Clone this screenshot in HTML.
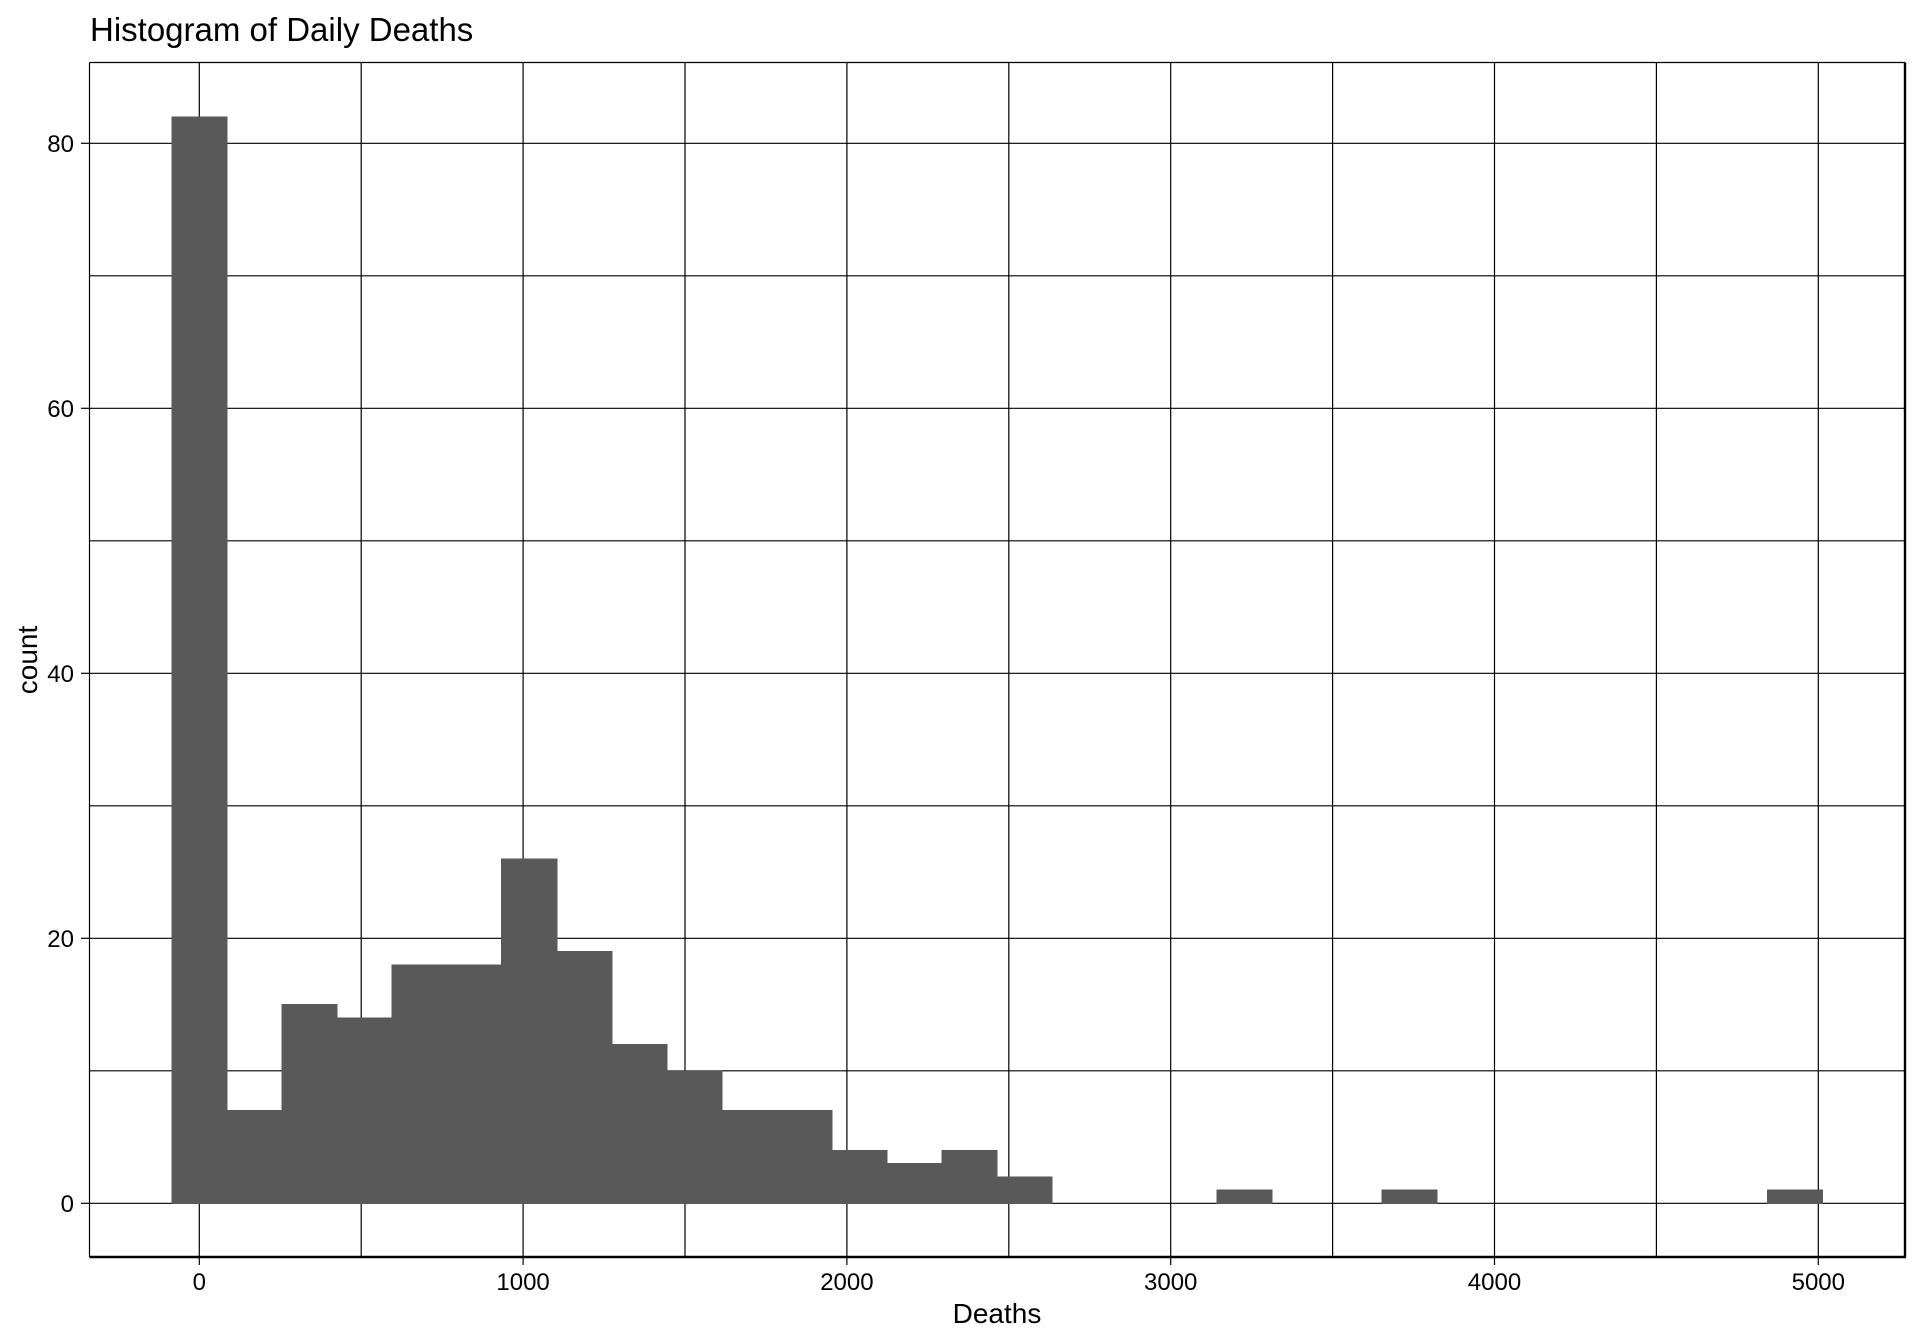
<!DOCTYPE html>
<html><head><meta charset="utf-8"><style>
html,body{margin:0;padding:0;background:#fff;}
svg{display:block;font-family:"Liberation Sans",Arial,sans-serif;}
</style></head><body>
<svg id="chart" width="1920" height="1344" viewBox="0 0 1920 1344" xmlns="http://www.w3.org/2000/svg">
<text x="90" y="41" font-size="33" fill="#000">Histogram of Daily Deaths</text>
<g id="grid"></g>
<g id="bars" shape-rendering="crispEdges"></g>
<g id="axes"></g>
<text x="997" y="1323" font-size="28" text-anchor="middle" fill="#000">Deaths</text>
<text transform="translate(37,660) rotate(-90)" font-size="28" text-anchor="middle" fill="#000">count</text>
</svg>
<script>
const binCenters = [0,170,340,510,680,850,1019,1189,1359,1529,1699,1869,2039,2209,2379,2549,2719,2889,3058,3228,3398,3568,3737,3907,4077,4247,4417,4587,4757,4928];
const counts = [82,7,15,14,18,18,26,19,12,10,7,7,4,3,4,2,0,0,0,1,0,0,1,0,0,0,0,0,0,1];
const binWidth = 169.9;
const xTicks = [0,1000,2000,3000,4000,5000];
const xMinor = [500,1500,2500,3500,4500];
const yTicks = [0,20,40,60,80];
const yMinor = [10,30,50,70];

const PL=89.5, PR=1905, PT=62.5, PB=1257;
function xs(v){return 199.3 + v*0.3238;}
function ys(v){return 1203.3 - v*13.25;}
const NS="http://www.w3.org/2000/svg";
function mk(tag, attrs, parent){const e=document.createElementNS(NS,tag);for(const k in attrs)e.setAttribute(k,attrs[k]);parent.appendChild(e);return e;}
const grid=document.getElementById('grid'), bars=document.getElementById('bars'), axes=document.getElementById('axes');

xMinor.concat(xTicks).forEach(v=>{
  const l=mk('line',{x1:xs(v),x2:xs(v),y1:PT,y2:PB,stroke:'#000','stroke-width':1.2},grid);
  
  
});
yMinor.concat(yTicks).forEach(v=>{
  const l=mk('line',{x1:PL,x2:PR,y1:ys(v),y2:ys(v),stroke:'#000','stroke-width':1.2},grid);
  
  
});
binCenters.forEach((c,i)=>{
  if(counts[i]<=0) return;
  const x0=xs(c-binWidth/2), x1=xs(c+binWidth/2);
  const r=mk('rect',{x:x0,y:ys(counts[i]),width:x1-x0,height:ys(0)-ys(counts[i]),fill:'#595959',stroke:'#595959','stroke-width':1},bars);
  
  
});
mk('line',{x1:PL,x2:PR,y1:PT,y2:PT,stroke:'#000','stroke-width':1.2},axes);
mk('line',{x1:PL,x2:PL,y1:PT,y2:PB,stroke:'#000','stroke-width':1.2},axes);
mk('line',{x1:PL,x2:PR+1,y1:PB,y2:PB,stroke:'#000','stroke-width':2.4},axes);
mk('line',{x1:PR,x2:PR,y1:PT,y2:PB,stroke:'#000','stroke-width':2.4},axes);
xTicks.forEach(v=>{
  mk('line',{x1:xs(v),x2:xs(v),y1:PB,y2:PB+8,stroke:'#000','stroke-width':1.2},axes);
  const t=mk('text',{x:xs(v),y:1290,'font-size':24,'text-anchor':'middle',fill:'#000'},axes);
  t.textContent=v;
  
  
});
yTicks.forEach(v=>{
  mk('line',{x1:81,x2:PL,y1:ys(v),y2:ys(v),stroke:'#000','stroke-width':1.2},axes);
  const t=mk('text',{x:74,y:ys(v)+8.5,'font-size':24,'text-anchor':'end',fill:'#000'},axes);
  t.textContent=v;
  
  
});
</script>
</body></html>
